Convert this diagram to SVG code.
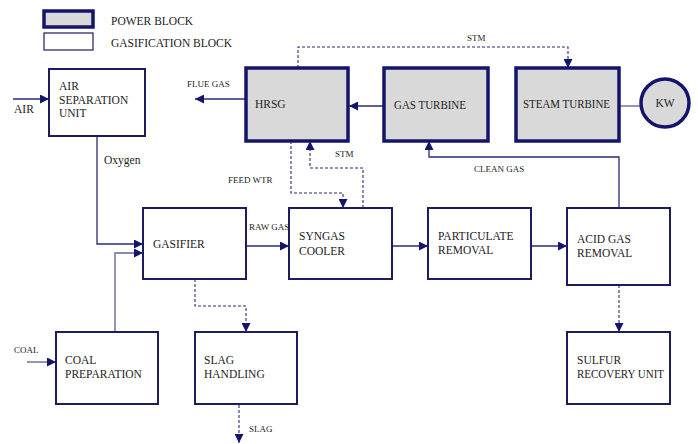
<svg xmlns="http://www.w3.org/2000/svg" width="698" height="444" viewBox="0 0 698 444">
<defs>
<style>
.pb{fill:#d9d9d9;stroke:#14146b;stroke-width:3.5}
.gb{fill:#fff;stroke:#1c1c5e;stroke-width:2}
.t{font-family:'Liberation Serif','Times New Roman','DejaVu Serif',serif;font-size:11.5px;fill:#222}
.s{font-family:'Liberation Serif','Times New Roman','DejaVu Serif',serif;font-size:9px;fill:#222}
.ln{fill:none;stroke:#2a2a78;stroke-width:1.3}
.lt{fill:none;stroke:#8a8ab0;stroke-width:1.8}
.dl{fill:none;stroke:#2a2a78;stroke-width:1.1;stroke-dasharray:3 2}
</style>
<marker id="ah" viewBox="0 0 10 10" refX="10" refY="5" markerWidth="9" markerHeight="9" markerUnits="userSpaceOnUse" orient="auto">
<path d="M0,0 L10,5 L0,10 z" fill="#14146b"/>
</marker>
</defs>
<rect width="698" height="444" fill="#fff"/>
<g id="legend">
<rect x="44" y="11" width="49" height="16" class="pb"/>
<rect x="44" y="33" width="49" height="17" fill="#fff" stroke="#1c1c5e" stroke-width="1.2"/>
<text x="111" y="25" class="t">POWER BLOCK</text>
<text x="111" y="47" class="t">GASIFICATION  BLOCK</text>
</g>
<g id="connectors">
<path d="M13,99 H49" class="ln" marker-end="url(#ah)"/>
<path d="M246,99 H195" class="ln" marker-end="url(#ah)"/>
<path d="M384,106 H349" class="ln" marker-end="url(#ah)"/>
<path d="M619,106 H641" class="lt" stroke-width="1.3"/>
<path d="M298,68 V47 H568 V68" class="dl" marker-end="url(#ah)"/>
<path d="M291,141 V193 H343 V208" class="dl" marker-end="url(#ah)"/>
<path d="M363,208 V168 H310 V141" class="dl" marker-end="url(#ah)"/>
<path d="M97,136 V244 H143" class="ln" marker-end="url(#ah)"/>
<path d="M115,332 V253 H143" class="lt" marker-end="url(#ah)"/>
<path d="M246,246 H289" class="ln" marker-end="url(#ah)"/>
<path d="M390,246 H428" class="ln" marker-end="url(#ah)"/>
<path d="M531,246 H567" class="ln" marker-end="url(#ah)"/>
<path d="M619,208 V157 H429 V141" class="ln" marker-end="url(#ah)"/>
<path d="M619,285 V332" class="dl" marker-end="url(#ah)"/>
<path d="M195,279 V306 H246 V332" class="dl" marker-end="url(#ah)"/>
<path d="M239,405 V443" class="dl" marker-end="url(#ah)"/>
<path d="M27,362 H56" class="lt" stroke-width="1.4" marker-end="url(#ah)"/>
<text x="14" y="113" class="t">AIR</text>
<text x="187" y="87" class="s">FLUE  GAS</text>
<text x="467" y="41" class="s">STM</text>
<text x="335" y="157" class="s">STM</text>
<text x="228" y="183" class="s">FEED  WTR</text>
<text x="104" y="164" class="t">Oxygen</text>
<text x="249" y="230" class="s">RAW GAS</text>
<text x="474" y="172" class="s">CLEAN  GAS</text>
<text x="14" y="353" class="s">COAL</text>
<text x="249" y="432" class="s">SLAG</text>
</g>
<g id="asu">
<rect x="49" y="69" width="96" height="67" class="gb"/>
<text x="59" y="90" class="t">AIR</text>
<text x="59" y="104" class="t">SEPARATION</text>
<text x="59" y="117" class="t">UNIT</text>
</g>
<g id="hrsg">
<rect x="246" y="68" width="102" height="73" class="pb"/>
<text x="255" y="108" class="t">HRSG</text>
</g>
<g id="gas-turbine">
<rect x="384" y="68" width="104" height="73" class="pb"/>
<text x="394" y="109" class="t" textLength="72" lengthAdjust="spacingAndGlyphs">GAS TURBINE</text>
</g>
<g id="steam-turbine">
<rect x="516" y="68" width="103" height="73" class="pb"/>
<text x="523" y="108" class="t" textLength="87" lengthAdjust="spacingAndGlyphs">STEAM TURBINE</text>
</g>
<g id="kw">
<circle cx="665" cy="103" r="24" class="pb" stroke-width="3"/>
<text x="665" y="107" class="t" text-anchor="middle">KW</text>
</g>
<g id="gasifier">
<rect x="143" y="208" width="103" height="71" class="gb"/>
<text x="153" y="248" class="t">GASIFIER</text>
</g>
<g id="syngas-cooler">
<rect x="289" y="208" width="103" height="71" class="gb"/>
<text x="299" y="240" class="t">SYNGAS</text>
<text x="299" y="255" class="t">COOLER</text>
</g>
<g id="particulate">
<rect x="428" y="208" width="103" height="71" class="gb"/>
<text x="438" y="240" class="t">PARTICULATE</text>
<text x="438" y="254" class="t">REMOVAL</text>
</g>
<g id="acid-gas">
<rect x="567" y="208" width="103" height="77" class="gb"/>
<text x="577" y="243" class="t">ACID GAS</text>
<text x="577" y="257" class="t">REMOVAL</text>
</g>
<g id="coal-prep">
<rect x="56" y="332" width="102" height="72" class="gb"/>
<text x="65" y="364" class="t">COAL</text>
<text x="65" y="378" class="t">PREPARATION</text>
</g>
<g id="slag-handling">
<rect x="195" y="332" width="102" height="72" class="gb"/>
<text x="204" y="364" class="t">SLAG</text>
<text x="204" y="378" class="t">HANDLING</text>
</g>
<g id="sulfur">
<rect x="567" y="332" width="103" height="72" class="gb"/>
<text x="577" y="364" class="t">SULFUR</text>
<text x="577" y="378" class="t" textLength="87" lengthAdjust="spacingAndGlyphs">RECOVERY UNIT</text>
</g>
</svg>
